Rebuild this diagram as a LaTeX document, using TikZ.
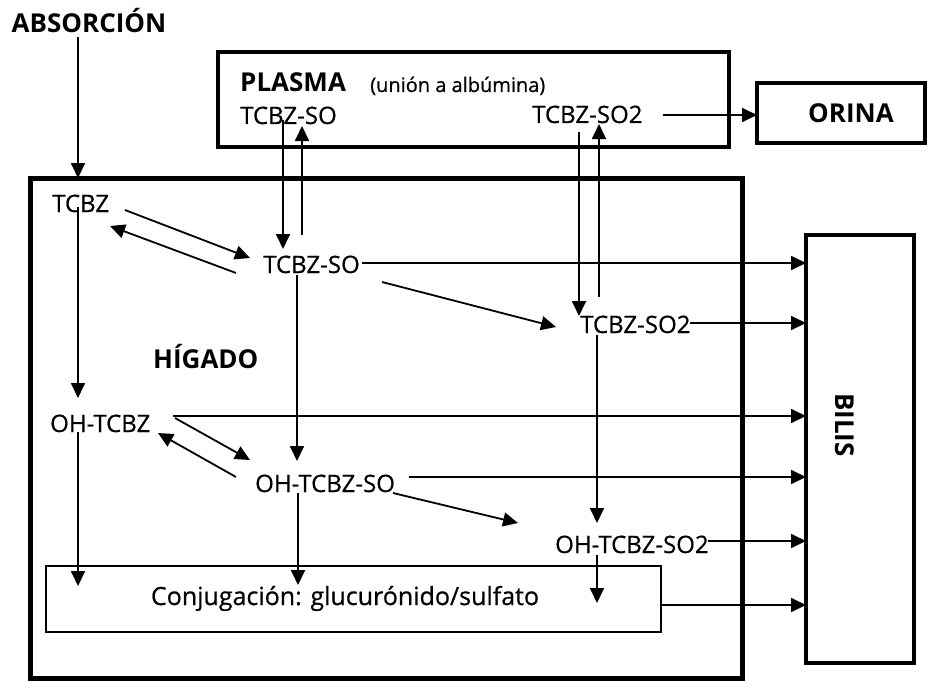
\documentclass[tikz,border=0pt]{standalone}
\usepackage{fontspec}
\setmainfont{Open Sans}
\newfontfamily\labfont[FakeBold=0.6]{Open Sans}
\usetikzlibrary{arrows.meta,calc}
\begin{document}
\begin{tikzpicture}[x=1pt,y=-1pt,
  arr/.style={-{Triangle[length=15pt,width=14pt]}, line width=1.8pt},
  lbl/.style={inner sep=0pt, text height=16pt, text depth=0pt, anchor=base west, font=\labfont\fontsize{24}{28}\selectfont},
  big/.style={inner sep=0pt, anchor=base west, font=\fontsize{26}{30}\selectfont\bfseries},
  box/.style={draw, inner sep=0pt, outer sep=0pt}]
\useasboundingbox (0,0) rectangle (928,682);
% boxes
\node[box, line width=4pt, minimum width=511pt, minimum height=95pt] (plasma) at (473.5,99.5) {};
\node[box, line width=4pt, minimum width=168pt, minimum height=60pt] (orina) at (841,113) {};
\node[box, line width=5pt, minimum width=712pt, minimum height=500pt] (liver) at (386,428) {};
\node[box, line width=4pt, minimum width=108pt, minimum height=428pt] (bilis) at (860,449) {};
\node[box, line width=1.6pt, minimum width=615pt, minimum height=66pt] (conj) at (353.5,599) {};
% texts
\node[big, anchor=base] (absorcion) at (89,33) {ABSORCIÓN};
\node[big] (plasmat) at (240,92) {PLASMA};
\node[inner sep=0pt, anchor=base west, font=\labfont\fontsize{20}{24}\selectfont] (union) at (370,92) {(unión a albúmina)};
\node[lbl] (pSO) at (240,124) {TCBZ-SO};
\node[lbl] (pSO2) at (532,123) {TCBZ-SO2};
\node[big, anchor=base] (orinat) at (851,122) {ORINA};
\node[lbl] (TCBZ) at (52,212) {TCBZ};
\node[lbl] (lSO) at (263,273) {TCBZ-SO};
\node[lbl] (lSO2) at (580,333) {TCBZ-SO2};
\node[big] (higado) at (153,368) {HÍGADO};
\node[lbl] (OH) at (50,432) {OH-TCBZ};
\node[lbl] (OHSO) at (255,492) {OH-TCBZ-SO};
\node[lbl] (OHSO2) at (555,553) {OH-TCBZ-SO2};
\node[inner sep=0pt, anchor=base, font=\labfont\fontsize{25}{29}\selectfont] (conjt) at (345,605) {Conjugación: glucurónido/sulfato};
\node[big, anchor=center, rotate=-90] (bilist) at (845,425) {BILIS};
% connectors
\draw[arr] ($(absorcion.base)+(-11,4)$) coordinate (a1) -- (a1 |- liver.north);
\draw[arr] ($(pSO.base west)+(43,-4)$) -- ($(lSO.base west)+(20,-24)$);
\draw[arr] ($(lSO.base west)+(39,-38)$) -- ($(pSO.base west)+(62,2)$);
\draw[arr] ($(pSO2.base west)+(47,9)$) -- ($(lSO2.base west)+(-1,-17)$);
\draw[arr] ($(lSO2.base west)+(19,-36)$) -- ($(pSO2.base west)+(67,1)$);
\draw[arr] ($(pSO2.base west)+(131,-8)$) coordinate (a6) -- (a6 -| orina.west);
\draw[arr] ($(TCBZ.base west)+(73,-2)$) -- ($(lSO.base west)+(-13,-15)$);
\draw[arr] ($(lSO.base west)+(-27,0)$) -- ($(TCBZ.base west)+(58,14)$);
\draw[arr] ($(lSO.base west)+(99,-10)$) coordinate (a9) -- (a9 -| bilis.west);
\draw[arr] ($(lSO.base west)+(119,9)$) -- ($(lSO2.base west)+(-24,-6)$);
\draw[arr] ($(lSO2.base west)+(110,-10)$) coordinate (a11) -- (a11 -| bilis.west);
\draw[arr] ($(TCBZ.base west)+(26,-5)$) -- ($(OH.base west)+(28,-34)$);
\draw[arr] ($(lSO.base west)+(34,2)$) -- ($(OHSO.base west)+(42,-31)$);
\draw[arr] ($(OH.base west)+(123,-16)$) coordinate (a14) -- (a14 -| bilis.west);
\draw[arr] ($(OH.base west)+(125,-14)$) -- ($(OHSO.base west)+(-5,-32)$);
\draw[arr] ($(OHSO.base west)+(-19,-15)$) -- ($(OH.base west)+(108,1)$);
\draw[arr] ($(OHSO.base west)+(154,-15)$) coordinate (a17) -- (a17 -| bilis.west);
\draw[arr] ($(OHSO.base west)+(138,1)$) -- ($(OHSO2.base west)+(-37,-30)$);
\draw[arr] ($(lSO2.base west)+(17,2)$) -- ($(OHSO2.base west)+(42,-30)$);
\draw[arr] ($(OHSO2.base west)+(153,-12)$) coordinate (a20) -- (a20 -| bilis.west);
\draw[arr] ($(OHSO2.base west)+(42,2)$) coordinate (a21) -- ($(a21 |- conj.north)+(0,37)$);
\draw[arr] ($(OH.base west)+(28,0)$) coordinate (a22) -- ($(a22 |- conj.north)+(0,20)$);
\draw[arr] ($(OHSO.base west)+(43,1)$) coordinate (a23) -- ($(a23 |- conj.north)+(0,19)$);
\draw[arr] ($(conj.east)+(0,6)$) coordinate (a24) -- (a24 -| bilis.west);
\end{tikzpicture}
\end{document}
